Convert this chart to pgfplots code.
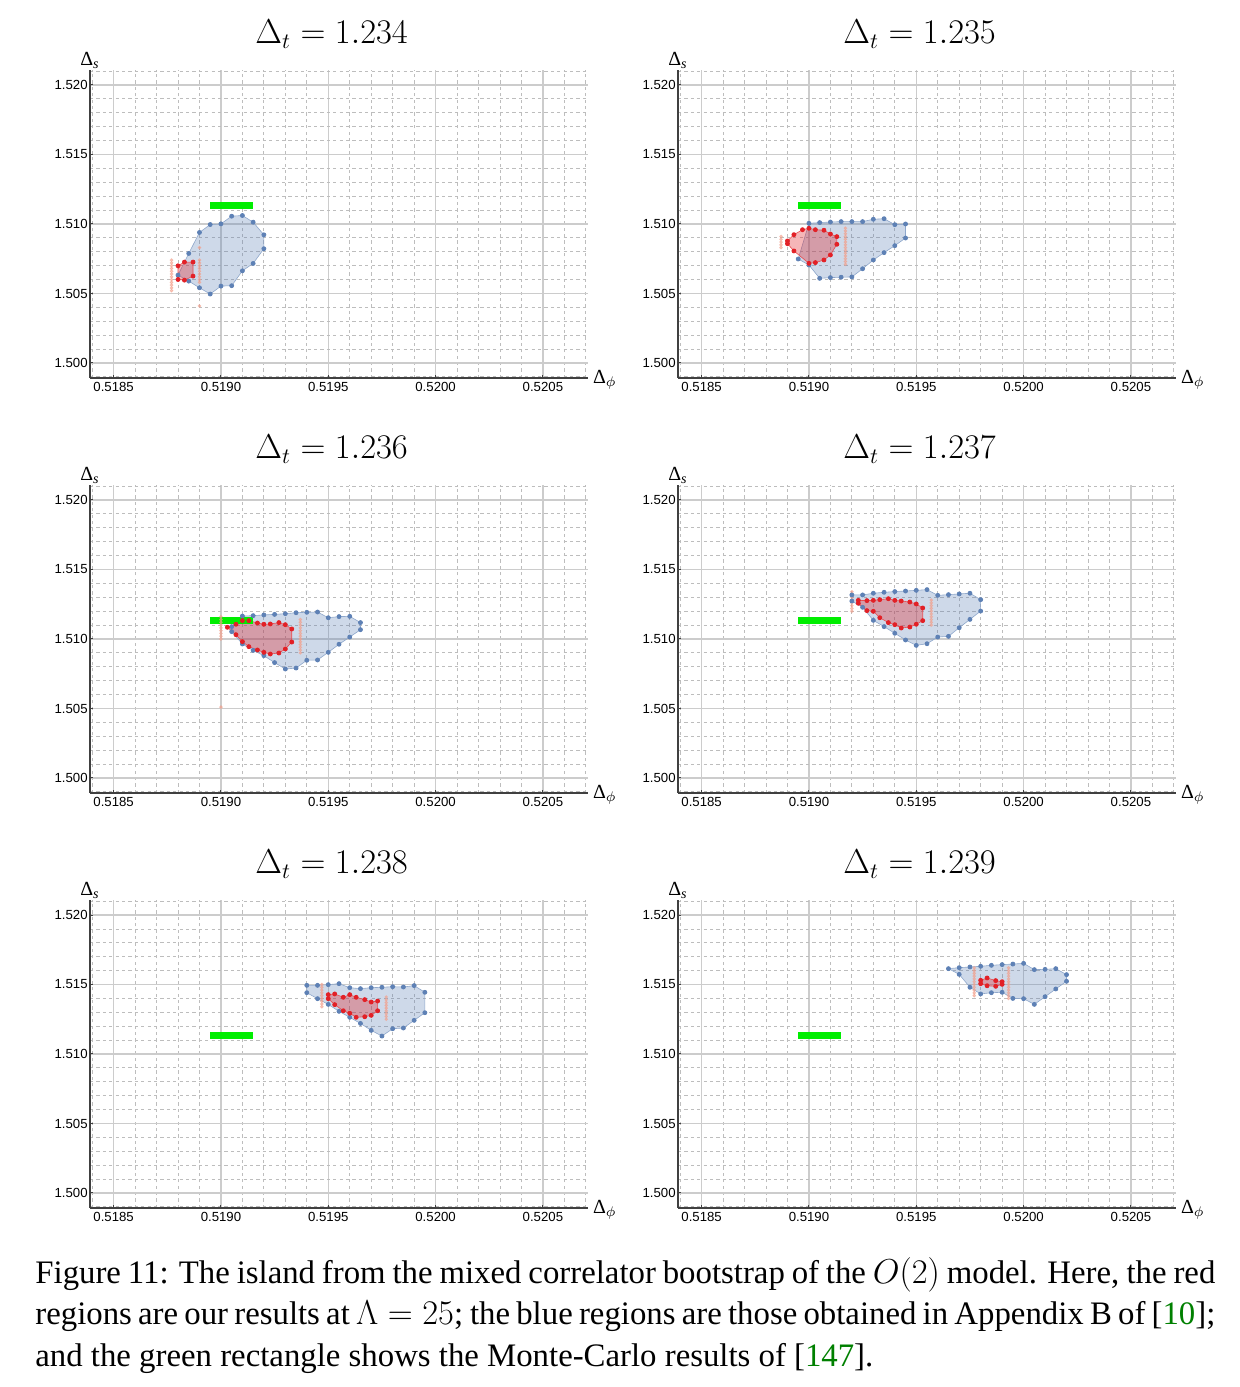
\documentclass[border=0pt]{standalone}
\usepackage[no-math]{fontspec}
\setmainfont{Liberation Serif}
\newfontfamily\lsans{Liberation Sans}
\usepackage{pgfplots}
\usepackage{pgfplotstable}
\pgfplotsset{compat=1.18}

\definecolor{bluept}{RGB}{94,129,181}
\definecolor{redpt}{RGB}{226,32,38}
\definecolor{faintpt}{RGB}{243,160,140}
\definecolor{mcgreen}{RGB}{0,238,0}
\definecolor{linkgreen}{RGB}{0,128,0}

% ---------- Delta_t = 1.234
\pgfplotstableread{
x y
0.51880 1.50632
0.51885 1.50788
0.51890 1.50939
0.51895 1.50996
0.51900 1.51001
0.51905 1.51056
0.51910 1.51061
0.51915 1.51013
0.51920 1.50922
0.51920 1.50822
0.51915 1.50716
0.51910 1.50663
0.51905 1.50556
0.51900 1.50553
0.51895 1.50496
0.51890 1.50541
0.51885 1.50589
}\blueA
\pgfplotstableread{
x y
0.51880 1.50699
0.51883 1.50726
0.51887 1.50726
0.51887 1.50625
0.51883 1.50596
0.51880 1.50601
}\redA
\pgfplotstableread{
x y
0.51877 1.5052
0.51877 1.5054
0.51877 1.5056
0.51877 1.5058
0.51877 1.5060
0.51877 1.5062
0.51877 1.5064
0.51877 1.5066
0.51877 1.5068
0.51877 1.5070
0.51877 1.5072
0.51877 1.5074
0.51890 1.5083
0.51890 1.5058
0.51890 1.5060
0.51890 1.5062
0.51890 1.5064
0.51890 1.5066
0.51890 1.5068
0.51890 1.5070
0.51890 1.5072
0.51890 1.5074
0.51890 1.5041
}\faintA

% ---------- Delta_t = 1.235
\pgfplotstableread{
x y
0.51895 1.50748
0.51900 1.51005
0.51905 1.51010
0.51910 1.51014
0.51915 1.51017
0.51920 1.51017
0.51925 1.51017
0.51930 1.51034
0.51935 1.51038
0.51940 1.50995
0.51945 1.51000
0.51945 1.50899
0.51940 1.50844
0.51935 1.50794
0.51930 1.50741
0.51925 1.50678
0.51920 1.50619
0.51915 1.50617
0.51910 1.50614
0.51905 1.50609
0.51900 1.50705
}\blueB
\pgfplotstableread{
x y
0.51890 1.50878
0.51893 1.50923
0.51897 1.50959
0.51900 1.50969
0.51903 1.50959
0.51907 1.50955
0.51910 1.50928
0.51913 1.50909
0.51913 1.50854
0.51910 1.50777
0.51907 1.50741
0.51903 1.50722
0.51900 1.50717
0.51893 1.50806
0.51890 1.50858
}\redB
\pgfplotstableread{
x y
0.51887 1.5083
0.51887 1.5085
0.51887 1.5087
0.51887 1.5089
0.51887 1.5091
0.51917 1.5071
0.51917 1.5073
0.51917 1.5075
0.51917 1.5077
0.51917 1.5079
0.51917 1.5081
0.51917 1.5083
0.51917 1.5085
0.51917 1.5087
0.51917 1.5089
0.51917 1.5091
0.51917 1.5093
0.51917 1.5095
0.51917 1.5097
}\faintB

% ---------- Delta_t = 1.236
\pgfplotstableread{
x y
0.51905 1.51053
0.51905 1.51089
0.51910 1.51165
0.51915 1.51168
0.51920 1.51173
0.51925 1.51177
0.51930 1.51182
0.51935 1.51189
0.51940 1.51192
0.51945 1.51194
0.51950 1.51153
0.51955 1.51161
0.51960 1.51163
0.51965 1.51118
0.51965 1.51067
0.51960 1.51014
0.51955 1.50962
0.51950 1.50904
0.51945 1.50849
0.51940 1.50847
0.51935 1.50791
0.51930 1.50784
0.51925 1.50830
0.51920 1.50880
0.51915 1.50918
0.51910 1.50964
}\blueC
\pgfplotstableread{
x y
0.51903 1.51084
0.51907 1.51106
0.51910 1.51132
0.51913 1.51132
0.51917 1.51115
0.51920 1.51106
0.51923 1.51108
0.51927 1.51118
0.51930 1.51103
0.51933 1.51072
0.51933 1.50978
0.51930 1.50928
0.51927 1.50899
0.51923 1.50892
0.51920 1.50904
0.51917 1.50921
0.51913 1.50945
0.51910 1.50981
0.51907 1.51031
}\redC
\pgfplotstableread{
x y
0.51900 1.5100
0.51900 1.5102
0.51900 1.5104
0.51900 1.5106
0.51900 1.5108
0.51900 1.5110
0.51900 1.5112
0.51900 1.5114
0.51900 1.5116
0.51900 1.5051
0.51937 1.5090
0.51937 1.5092
0.51937 1.5094
0.51937 1.5096
0.51937 1.5098
0.51937 1.5100
0.51937 1.5102
0.51937 1.5104
0.51937 1.5106
0.51937 1.5108
0.51937 1.5110
0.51937 1.5112
0.51937 1.5114
}\faintC

% ---------- Delta_t = 1.237
\pgfplotstableread{
x y
0.51920 1.51273
0.51920 1.51317
0.51925 1.51317
0.51930 1.51329
0.51935 1.51336
0.51940 1.51341
0.51945 1.51345
0.51950 1.51350
0.51955 1.51355
0.51960 1.51314
0.51965 1.51319
0.51970 1.51324
0.51975 1.51329
0.51980 1.51283
0.51980 1.51201
0.51975 1.51141
0.51970 1.51081
0.51965 1.51019
0.51960 1.51014
0.51955 1.50966
0.51950 1.50954
0.51945 1.50993
0.51940 1.51041
0.51935 1.51089
0.51930 1.51134
0.51925 1.51228
}\blueD
\pgfplotstableread{
x y
0.51923 1.51278
0.51927 1.51276
0.51930 1.51278
0.51933 1.51283
0.51937 1.51290
0.51940 1.51278
0.51943 1.51273
0.51947 1.51266
0.51950 1.51252
0.51953 1.51223
0.51953 1.51132
0.51950 1.51106
0.51947 1.51086
0.51943 1.51079
0.51940 1.51103
0.51937 1.51118
0.51933 1.51153
0.51930 1.51199
0.51927 1.51204
0.51923 1.51257
}\redD
\pgfplotstableread{
x y
0.51920 1.5120
0.51920 1.5122
0.51920 1.5124
0.51920 1.5126
0.51920 1.5128
0.51920 1.5130
0.51920 1.5132
0.51920 1.5134
0.51957 1.5110
0.51957 1.5112
0.51957 1.5114
0.51957 1.5116
0.51957 1.5118
0.51957 1.5120
0.51957 1.5122
0.51957 1.5124
0.51957 1.5126
0.51957 1.5128
}\faintD

% ---------- Delta_t = 1.238
\pgfplotstableread{
x y
0.51940 1.51441
0.51940 1.51494
0.51945 1.51494
0.51950 1.51499
0.51955 1.51506
0.51960 1.51477
0.51965 1.51470
0.51970 1.51477
0.51975 1.51480
0.51980 1.51484
0.51985 1.51482
0.51990 1.51492
0.51995 1.51444
0.51995 1.51297
0.51990 1.51242
0.51985 1.51187
0.51980 1.51182
0.51975 1.51129
0.51970 1.51170
0.51965 1.51220
0.51960 1.51264
0.51955 1.51307
0.51950 1.51357
0.51945 1.51398
}\blueE
\pgfplotstableread{
x y
0.51950 1.51427
0.51953 1.51432
0.51957 1.51408
0.51960 1.51427
0.51963 1.51408
0.51967 1.51391
0.51970 1.51374
0.51973 1.51381
0.51973 1.51311
0.51970 1.51278
0.51967 1.51268
0.51963 1.51264
0.51960 1.51293
0.51957 1.51311
0.51953 1.51355
0.51950 1.51398
}\redE
\pgfplotstableread{
x y
0.51947 1.5134
0.51947 1.5136
0.51947 1.5138
0.51947 1.5140
0.51947 1.5142
0.51947 1.5144
0.51947 1.5146
0.51947 1.5148
0.51947 1.5150
0.51977 1.5125
0.51977 1.5127
0.51977 1.5129
0.51977 1.5131
0.51977 1.5133
0.51977 1.5135
0.51977 1.5137
0.51977 1.5139
0.51977 1.5141
}\faintE

% ---------- Delta_t = 1.239
\pgfplotstableread{
x y
0.51965 1.51614
0.51970 1.51621
0.51975 1.51626
0.51980 1.51631
0.51985 1.51638
0.51990 1.51643
0.51995 1.51647
0.52000 1.51652
0.52005 1.51607
0.52010 1.51609
0.52015 1.51614
0.52020 1.51571
0.52020 1.51523
0.52015 1.51468
0.52010 1.51412
0.52005 1.51357
0.52000 1.51398
0.51995 1.51400
0.51990 1.51444
0.51985 1.51441
0.51980 1.51432
0.51975 1.51480
0.51970 1.51573
}\blueF
\pgfplotstableread{
x y
0.51980 1.51530
0.51983 1.51547
0.51987 1.51528
0.51990 1.51520
0.51990 1.51501
0.51987 1.51487
0.51983 1.51491
0.51980 1.51506
}\redF
\pgfplotstableread{
x y
0.51977 1.5142
0.51977 1.5144
0.51977 1.5146
0.51977 1.5148
0.51977 1.5150
0.51977 1.5152
0.51977 1.5154
0.51977 1.5156
0.51977 1.5158
0.51977 1.5160
0.51977 1.5162
0.51993 1.5140
0.51993 1.5142
0.51993 1.5144
0.51993 1.5146
0.51993 1.5148
0.51993 1.5150
0.51993 1.5152
0.51993 1.5154
0.51993 1.5156
0.51993 1.5158
0.51993 1.5160
0.51993 1.5162
}\faintF

\pgfplotsset{
  panel/.style={
    scale only axis, width=249pt, height=154pt,
    xmin=0.51839, xmax=0.52071, ymin=1.49892, ymax=1.52108,
    axis x line=bottom, axis y line=left,
    axis line style={-, black!75, line width=0.6pt},
    xtick={0.5185,0.519,0.5195,0.52,0.5205},
    xticklabels={0.5185,0.5190,0.5195,0.5200,0.5205},
    ytick={1.5,1.505,1.51,1.515,1.52},
    yticklabels={1.500,1.505,1.510,1.515,1.520},
    minor xtick={0.5184,0.5186,0.5187,0.5188,0.5189,0.5191,0.5192,0.5193,0.5194,
      0.5196,0.5197,0.5198,0.5199,0.5201,0.5202,0.5203,0.5204,0.5206,0.5207},
    minor ytick={1.499,1.501,1.502,1.503,1.504,1.506,1.507,1.508,1.509,
      1.511,1.512,1.513,1.514,1.516,1.517,1.518,1.519,1.521},
    grid=both,
    major grid style={draw=black!20, line width=0.6pt},
    minor grid style={draw=black!26, line width=0.4pt, dash pattern=on 1.6pt off 1.6pt},
    tick align=inside, major tick length=1.5pt, minor tick length=0pt,
    tick style={draw=black!75, line width=0.5pt},
    ticklabel style={font=\lsans\fontsize{6.6}{7}\selectfont},
    /pgf/number format/assume math mode=true,
    xticklabel style={inner sep=1pt, yshift=-1pt},
    yticklabel style={inner sep=1pt},
    label style={font=\lsans\fontsize{6.8}{7}\selectfont, inner sep=0pt},
    xlabel={Δ\textsubscript{$\phi$}},
    ylabel={Δ\textsubscript{\textit{s}}},
    every axis x label/.style={at={(axis description cs:1,0)}, anchor=base west, xshift=-1pt, yshift=-3pt},
    every axis y label/.style={at={(axis description cs:0,1)}, anchor=base, yshift=2pt},
  },
}

\newcommand{\panel}[6]{%
  \begin{axis}[panel, name=#1, at={#2}, anchor=south west]
    \addplot[draw=bluept!70, line width=0.3pt, fill=bluept, fill opacity=0.3] table {#4} -- cycle;
    \addplot[draw=redpt!80, line width=0.3pt, fill=redpt, fill opacity=0.33] table {#5} -- cycle;
    \addplot[draw=none, fill=mcgreen] coordinates {(0.51895,1.5111) (0.51915,1.5111) (0.51915,1.51155) (0.51895,1.51155)} -- cycle;
    \addplot[only marks, mark=*, mark size=0.7pt, color=faintpt, opacity=0.55] table {#6};
    \addplot[only marks, mark=*, mark size=1pt, color=bluept] table {#4};
    \addplot[only marks, mark=*, mark size=1pt, color=redpt] table {#5};
  \end{axis}
  \node[anchor=base, font=\fontsize{16}{19}\selectfont] at ([xshift=-3.7pt, yshift=13.3pt]#1.north) {$\Delta_t = #3$};
}

\begin{document}
\begin{tikzpicture}
\useasboundingbox (0,0) rectangle (619.5pt,693.5pt);
\panel{p1}{(45pt,504.5pt)}{1.234}{\blueA}{\redA}{\faintA}
\panel{p2}{(339pt,504.5pt)}{1.235}{\blueB}{\redB}{\faintB}
\panel{p3}{(45pt,297pt)}{1.236}{\blueC}{\redC}{\faintC}
\panel{p4}{(339pt,297pt)}{1.237}{\blueD}{\redD}{\faintD}
\panel{p5}{(45pt,89.5pt)}{1.238}{\blueE}{\redE}{\faintE}
\panel{p6}{(339pt,89.5pt)}{1.239}{\blueF}{\redF}{\faintF}
\node[anchor=north west, inner sep=0pt, text width=590pt, align=justify,
      font=\fontsize{16.4}{20.75}\selectfont] at (17.5pt,65pt)
  {Figure 11: The island from the mixed correlator bootstrap of the $O(2)$ model. Here, the red\linebreak
   regions are our results at $\Lambda = 25$; the blue regions are those obtained in Appendix B of [{\color{linkgreen}10}];\linebreak
   and the green rectangle shows the Monte-Carlo results of [{\color{linkgreen}147}].};
\end{tikzpicture}
\end{document}
